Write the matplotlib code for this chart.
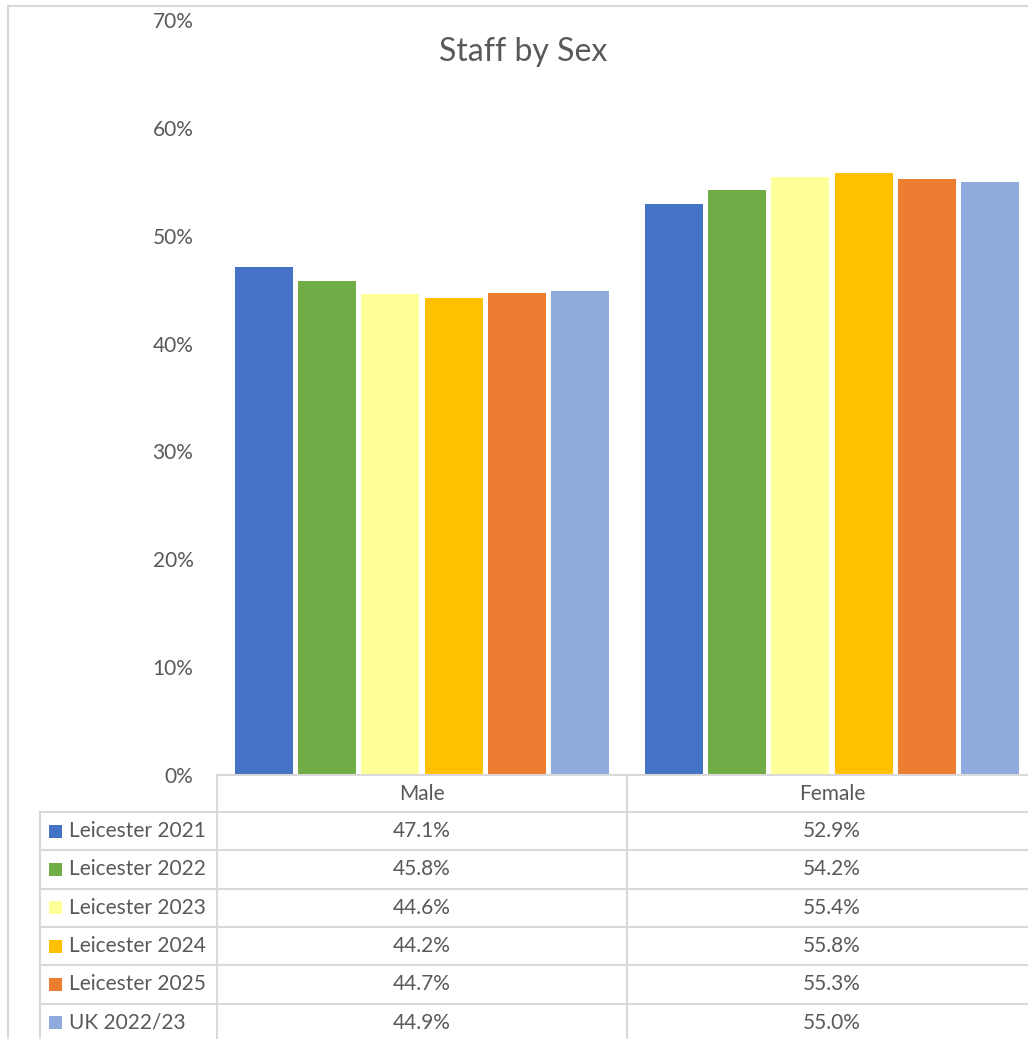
import matplotlib.pyplot as plt
import numpy as np
from matplotlib.lines import Line2D
from matplotlib.patches import Rectangle
from matplotlib.transforms import blended_transform_factory

plt.rcParams['font.family'] = ['Lato', 'DejaVu Sans']

categories = ["Male", "Female"]
series = ["Leicester 2021", "Leicester 2022", "Leicester 2023",
          "Leicester 2024", "Leicester 2025", "UK 2022/23"]
colors = ["#4472C4", "#70AD47", "#FFFF99", "#FFC000", "#ED7D31", "#8FAADC"]

leicester_2021 = [47.1, 52.9]
leicester_2022 = [45.8, 54.2]
leicester_2023 = [44.6, 55.4]
leicester_2024 = [44.2, 55.8]
leicester_2025 = [44.7, 55.3]
uk_2022_23 = [44.9, 55.0]
values = [leicester_2021, leicester_2022, leicester_2023,
          leicester_2024, leicester_2025, uk_2022_23]

yticks = list(range(0, 71, 10))

TEXT = "#595959"
GRID = "#d9d9d9"
FS = 15
W, H = 1028, 1039


def fx(px):
    return px / W


def fy(py):
    return 1 - py / H


fig = plt.figure(figsize=(W / 100, H / 100), dpi=100)

# plot area; the right category runs past the figure edge
ax = fig.add_axes([fx(217), fy(775), fx(1037) - fx(217), fy(20) - fy(775)])
x = np.arange(len(categories))
bar_w = 0.1415
step = 0.1537
for i, (name, vals) in enumerate(zip(series, values)):
    ax.bar(x + (i - 2.5) * step, vals, width=bar_w, color=colors[i], label=name)

ax.set_xlim(-0.5, len(categories) - 0.5)
ax.set_ylim(0, 70)
ax.set_yticks(yticks)
ax.set_yticklabels([f"{v}%" for v in yticks], fontsize=FS, color=TEXT)
ax.set_xticks([])
ax.tick_params(axis='y', length=0, pad=17)
for s in ax.spines.values():
    s.set_visible(False)

fig.text(fx(523), fy(52), "Staff by Sex", ha='center', va='center',
         fontsize=23, color=TEXT)

# outer frame
fig.add_artist(Line2D([fx(8), 1], [fy(6), fy(6)], transform=fig.transFigure,
                      color=GRID, lw=1.5))
fig.add_artist(Line2D([fx(8), fx(8)], [fy(6), 0], transform=fig.transFigure,
                      color=GRID, lw=1.5))

# data table under the chart
header_top, header_bot = 775, 812
row_h = 38.3
row_lines = [header_bot + k * row_h for k in range(len(series) + 1)]

def hline(x0, py):
    fig.add_artist(Line2D([fx(x0), 1], [fy(py), fy(py)], transform=fig.transFigure,
                          color=GRID, lw=1.5))

def vline(px, y0):
    fig.add_artist(Line2D([fx(px), fx(px)], [fy(y0), 0], transform=fig.transFigure,
                          color=GRID, lw=1.5))

hline(217, header_top)
for py in row_lines:
    hline(40, py)
vline(40, header_bot)
vline(217, header_top)
vline(627, header_top)

trans = blended_transform_factory(ax.transData, fig.transFigure)
for j, cat in enumerate(categories):
    fig.text(x[j], fy((header_top + header_bot) / 2), cat, transform=trans,
             ha='center', va='center', fontsize=FS, color=TEXT)

for i, (name, vals) in enumerate(zip(series, values)):
    yc = header_bot + (i + 0.5) * row_h
    fig.add_artist(Rectangle((fx(49), fy(yc + 6.5)), fx(13), 13 / H,
                             transform=fig.transFigure, color=colors[i], lw=0))
    fig.text(fx(69), fy(yc), name, ha='left', va='center',
             fontsize=FS, color=TEXT)
    for j, v in enumerate(vals):
        fig.text(x[j], fy(yc), f"{v:.1f}%", transform=trans,
                 ha='center', va='center', fontsize=FS, color=TEXT)

fig.savefig("out.png", dpi=100)
